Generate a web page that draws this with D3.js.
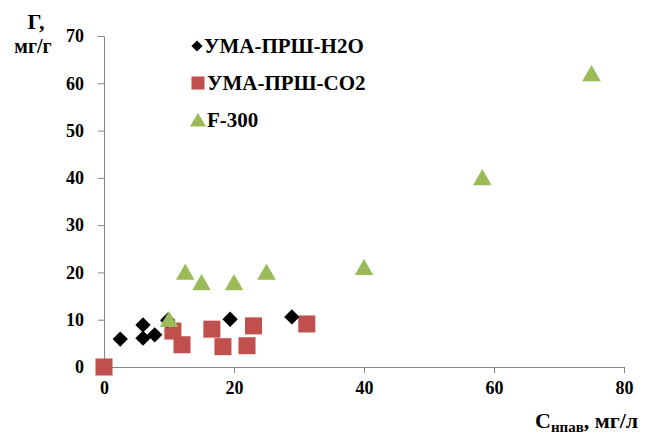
<!DOCTYPE html>
<html lang="ru">
<head>
<meta charset="UTF-8">
<title>Г, мг/г</title>
<script src="https://d3js.org/d3.v7.min.js"></script>
<style>
  * { margin: 0; padding: 0; }
  body { background: #fff; width: 646px; height: 436px; overflow: hidden; }
  svg text { font-family: "Times New Roman", "Liberation Serif", "DejaVu Serif", serif; font-weight: bold; fill: #000; }
  .axis path, .axis line { stroke: #868686; }
  .axis text { font-size: 18px; font-family: "Times New Roman", "Liberation Serif", serif; }
</style>
</head>
<body>
<div id="chart"></div>
<script>
const seriesNames = ["УМА-ПРШ-H2O", "УМА-ПРШ-CO2", "F-300"];
const h2oX = [2.5, 6, 6, 7.8, 9.8, 19.4, 28.9];
const h2oY = [5.9, 8.9, 6.1, 6.8, 9.9, 10.1, 10.6];
const co2X = [0, 10.6, 12, 16.6, 18.3, 22, 23, 31.2];
const co2Y = [0, 7.6, 4.7, 8.0, 4.3, 4.5, 8.7, 9.1];
const f300X = [10, 12.5, 15, 20, 25, 40, 58.2, 75];
const f300Y = [10, 20, 17.8, 17.8, 20, 21, 40, 62];
const xTicks = [0, 20, 40, 60, 80];
const yTicks = [0, 10, 20, 30, 40, 50, 60, 70];

const svg = d3.select("#chart").append("svg")
  .attr("width", 646).attr("height", 436);

const x = d3.scaleLinear().domain([0, 80]).range([104, 624]);
const y = d3.scaleLinear().domain([0, 70]).range([367, 36]);

// axes
svg.append("g").attr("class", "axis")
  .attr("transform", "translate(0,367)")
  .call(d3.axisBottom(x).tickValues(xTicks).tickSize(6).tickSizeOuter(0).tickPadding(8));
svg.append("g").attr("class", "axis")
  .attr("transform", "translate(104,0)")
  .call(d3.axisLeft(y).tickValues(yTicks).tickSize(6).tickSizeOuter(0).tickPadding(14));

const series = [
  { name: seriesNames[0], xs: h2oX, ys: h2oY, shape: d3.symbolDiamond2, size: 150, color: "#000000" },
  { name: seriesNames[1], xs: co2X, ys: co2Y, shape: d3.symbolSquare, size: 290, color: "#C0504D" },
  { name: seriesNames[2], xs: f300X, ys: f300Y, shape: d3.symbolTriangle, size: 150, color: "#9BBB59" }
];

// draw order: squares, diamonds, triangles on top
[series[1], series[0], series[2]].forEach(s => {
  svg.append("g").selectAll("path")
    .data(s.xs.map((v, i) => [v, s.ys[i]]))
    .join("path")
    .attr("transform", d => `translate(${x(d[0])},${y(d[1]) + (s.shape === d3.symbolTriangle ? 2 : 0)})`)
    .attr("d", d3.symbol().type(s.shape).size(s.size))
    .attr("fill", s.color);
});

// legend
const legend = svg.append("g").attr("transform", "translate(198,46)");
series.forEach((s, i) => {
  const row = legend.append("g").attr("transform", `translate(0,${i * 37})`);
  row.append("path")
    .attr("transform", `translate(${i === 0 ? -1 : 0},${i === 2 ? 2 : 0})`)
    .attr("d", d3.symbol().type(s.shape).size(i === 1 ? 170 : (i === 0 ? 80 : 110)))
    .attr("fill", s.color);
  row.append("text").attr("x", i === 0 ? 6 : 9).attr("y", 7).style("font-size", "21px").text(s.name);
});

// axis titles
svg.append("text").attr("x", 36).attr("y", 29).attr("text-anchor", "middle")
  .style("font-size", "22px").text("Г,");
svg.append("text").attr("x", 33).attr("y", 53).attr("text-anchor", "middle")
  .style("font-size", "20px").text("мг/г");

const xt = svg.append("text").attr("x", 535).attr("y", 428).style("font-size", "22px");
xt.append("tspan").text("C");
xt.append("tspan").attr("dy", 4).style("font-size", "15px").text("нпав");
xt.append("tspan").attr("dy", -4).text(", мг/л");
</script>
</body>
</html>
